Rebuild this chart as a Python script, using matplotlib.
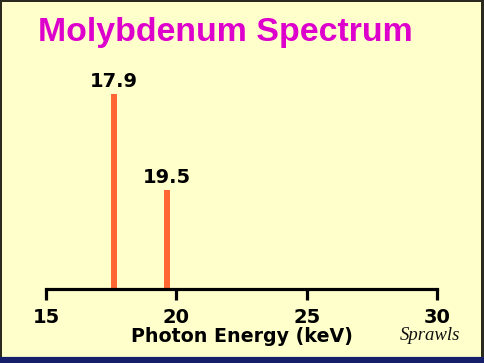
import matplotlib
matplotlib.use("Agg")
import matplotlib.pyplot as plt
from matplotlib.patches import Rectangle

# Data
energies = [17.6, 19.65]          # drawn line positions (keV)
intensities = [1.0, 0.51]         # relative heights
peak_labels = ["17.9", "19.5"]
xticks = [15, 20, 25, 30]
xtick_labels = ["15", "20", "25", "30"]

W, H = 484, 363
fig = plt.figure(figsize=(W / 100, H / 100), dpi=100)
fig.patch.set_facecolor("#2b2a1e")

# background panels (figure pixel coords)
def px_rect(x0, y0, x1, y1, color, z=-10):
    fig.patches.append(Rectangle((x0 / W, 1 - y1 / H), (x1 - x0) / W, (y1 - y0) / H,
                                 transform=fig.transFigure, facecolor=color,
                                 edgecolor="none", zorder=z))

px_rect(2, 2, 481, 356, "#ffffcc")
px_rect(0, 357, W, H, "#16206a")
px_rect(2, 356, 481, 357, "#e8e8c8")

LF = "DejaVu Sans"

ax_left, ax_right = 46, 437
ax_top, ax_bottom = 94, 289
ax = fig.add_axes([ax_left / W, 1 - ax_bottom / H,
                   (ax_right - ax_left) / W, (ax_bottom - ax_top) / H])
ax.set_zorder(5)
ax.set_facecolor("none")
ax.set_xlim(15, 30)
ax.set_ylim(0, 1)

ax.bar(energies, intensities, width=0.23, color="#ff6633", zorder=1)
for x, h, lab in zip(energies, intensities, peak_labels):
    ax.annotate(lab, (x, h), xytext=(0, 2), textcoords="offset points",
                ha="center", va="bottom", fontsize=14, fontweight="bold",
                family=LF, color="black", annotation_clip=False)

for s in ["top", "right", "left"]:
    ax.spines[s].set_visible(False)
ax.spines["bottom"].set_linewidth(2.3)
ax.spines["bottom"].set_zorder(3)
ax.set_yticks([])
ax.set_xticks(xticks)
ax.set_xticklabels(xtick_labels, fontsize=14, fontweight="bold", family=LF)
ax.tick_params(axis="x", direction="out", length=8, width=2.3, pad=6)
ax.set_xlabel("Photon Energy (keV)", fontsize=13.7, fontweight="bold",
              family=LF, labelpad=0)

fig.text(38 / W, 1 - 33 / H, "Molybdenum Spectrum", fontsize=24.4, fontweight="bold",
         family="Liberation Sans", color="#dd00cc", ha="left", va="center", zorder=6)
fig.text(430 / W, 1 - 335 / H, "Sprawls", fontsize=13.5, style="italic",
         family="Liberation Serif", color="#111111", ha="center", va="center", zorder=6)

fig.savefig("out.png", dpi=100, facecolor=fig.get_facecolor())
